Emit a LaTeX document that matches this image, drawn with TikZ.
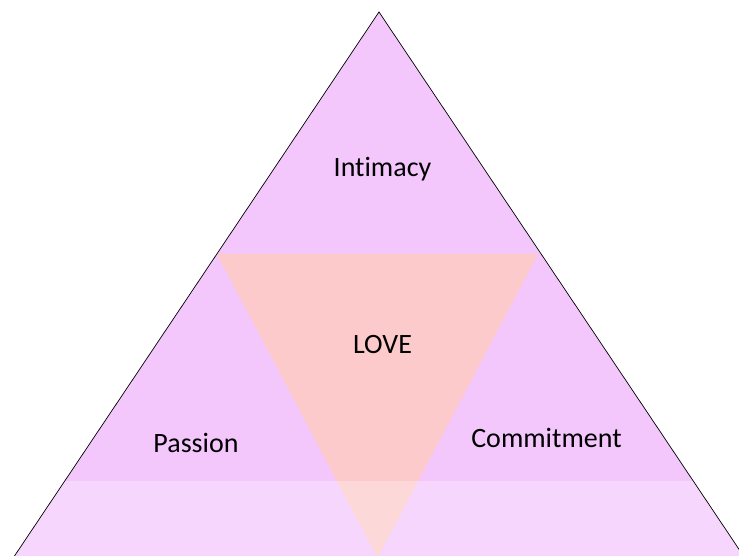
\documentclass[tikz,border=0pt]{standalone}
\usepackage{fontspec}
\setmainfont[Ligatures=NoCommon]{Carlito}
\definecolor{outerfill}{RGB}{243,199,252}
\definecolor{innerfill}{RGB}{253,202,203}
\tikzset{
  lbl/.style={anchor=base, inner sep=0pt, font=\fontsize{28}{30}\selectfont, text=black},
  edge/.style={draw=black, line width=0.7pt}
}
\begin{document}
\begin{tikzpicture}[x=1pt,y=-1pt]
\useasboundingbox (0,0) rectangle (739,556);
\clip (0,0) rectangle (739,556);
% outer triangle
\coordinate (apex) at (379,12);
\coordinate (bl) at (-15,600);
\coordinate (br) at (773,600);
\fill[outerfill] (apex) -- (br) -- (bl) -- cycle;
% inner inverted triangle
\coordinate (itl) at (217,254);
\coordinate (itr) at (538,254);
\coordinate (ibot) at (377.5,558);
\fill[innerfill] (itl) -- (itr) -- (ibot) -- cycle;
% faded lower band
\begin{scope}
\clip (apex) -- (br) -- (bl) -- cycle;
\fill[white, opacity=0.27] (0,481) rectangle (739,600);
\end{scope}
% outline
\draw[edge] (bl) -- (apex) -- (br);
% labels
\node[lbl] (intimacy) at (382.5,177) {Intimacy};
\node[lbl] (love) at (382.5,353) {LOVE};
\node[lbl] (passion) at (196,452) {Passion};
\node[lbl] (commit) at (546.5,447) {Commitment};
\end{tikzpicture}
\end{document}
